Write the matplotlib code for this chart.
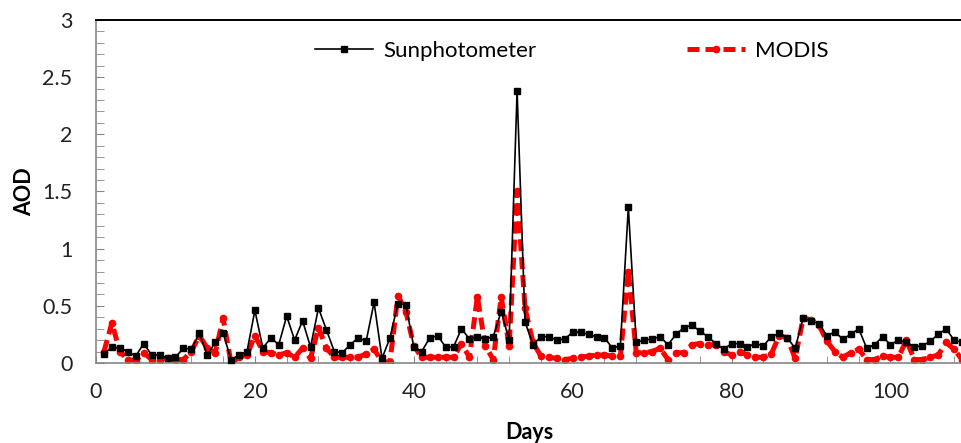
"""
AOD time series: sunphotometer vs MODIS, daily values.
"""

import matplotlib
matplotlib.use("Agg")
import matplotlib.pyplot as plt
import numpy as np
from matplotlib.ticker import FuncFormatter, MultipleLocator

# day index of each observation
DAYS = np.arange(1, 110)

SUNPHOTOMETER = [
    0.08, 0.14, 0.13, 0.10, 0.06, 0.17, 0.07, 0.07, 0.04, 0.05,
    0.13, 0.12, 0.26, 0.07, 0.18, 0.26, 0.03, 0.07, 0.10, 0.46,
    0.13, 0.22, 0.16, 0.41, 0.20, 0.37, 0.14, 0.48, 0.29, 0.10,
    0.09, 0.16, 0.22, 0.19, 0.53, 0.04, 0.22, 0.52, 0.51, 0.14,
    0.10, 0.22, 0.24, 0.14, 0.14, 0.30, 0.21, 0.23, 0.21, 0.23,
    0.45, 0.20, 2.38, 0.36, 0.16, 0.23, 0.23, 0.20, 0.21, 0.27,
    0.27, 0.25, 0.23, 0.22, 0.13, 0.15, 1.36, 0.18, 0.20, 0.21,
    0.23, 0.16, 0.25, 0.31, 0.33, 0.28, 0.23, 0.17, 0.12, 0.17,
    0.17, 0.14, 0.17, 0.15, 0.23, 0.26, 0.22, 0.13, 0.39, 0.37,
    0.34, 0.24, 0.27, 0.21, 0.25, 0.30, 0.13, 0.16, 0.23, 0.16,
    0.20, 0.18, 0.14, 0.15, 0.19, 0.25, 0.30, 0.20, 0.18,
]

MODIS = [
    0.10, 0.35, 0.10, 0.03, 0.02, 0.09, 0.03, 0.03, 0.04, 0.03,
    0.03, 0.10, 0.24, 0.13, 0.09, 0.39, 0.00, 0.05, 0.07, 0.24,
    0.10, 0.09, 0.07, 0.09, 0.05, 0.13, 0.04, 0.31, 0.13, 0.05,
    0.05, 0.05, 0.05, 0.08, 0.12, 0.01, 0.01, 0.59, 0.45, 0.15,
    0.05, 0.05, 0.05, 0.05, 0.05, 0.17, 0.05, 0.58, 0.15, 0.03,
    0.58, 0.15, 1.50, 0.48, 0.18, 0.06, 0.05, 0.04, 0.03, 0.04,
    0.05, 0.06, 0.07, 0.07, 0.06, 0.06, 0.80, 0.09, 0.09, 0.10,
    0.13, 0.03, 0.09, 0.09, 0.16, 0.17, 0.16, 0.16, 0.10, 0.07,
    0.10, 0.07, 0.05, 0.05, 0.08, 0.24, 0.22, 0.04, 0.39, 0.38,
    0.33, 0.19, 0.10, 0.05, 0.09, 0.12, 0.03, 0.03, 0.06, 0.05,
    0.05, 0.20, 0.03, 0.03, 0.05, 0.07, 0.18, 0.12, 0.03,
]

plt.rcParams["font.family"] = ["Lato", "DejaVu Sans"]

fig = plt.figure(figsize=(9.62, 4.43), dpi=100)
ax = fig.add_axes([0.0998, 0.1806, 0.9002, 0.7743])

ax.plot(DAYS, SUNPHOTOMETER, color="black", lw=1.2, marker="s", ms=4.5,
        label="Sunphotometer", clip_on=False, zorder=3)
ax.plot(DAYS, MODIS, color="red", lw=3.6, ls=(0, (2.4, 1.2)), marker="o", ms=4.5,
        label="MODIS", zorder=2)

ax.set_xlim(0, 109)
ax.set_ylim(0, 3)

ax.xaxis.set_major_locator(MultipleLocator(20))
ax.xaxis.set_minor_locator(MultipleLocator(4))
ax.yaxis.set_major_locator(MultipleLocator(0.5))
ax.yaxis.set_minor_locator(MultipleLocator(0.1))
ax.yaxis.set_major_formatter(FuncFormatter(lambda v, p: f"{v:g}"))

grey = "#868686"
ax.tick_params(axis="both", which="both", direction="in", color=grey,
               labelsize=15.5, labelcolor="#222222")
ax.tick_params(axis="x", which="both", length=5, pad=14)
ax.tick_params(axis="y", which="both", length=6, pad=17)

for side in ("left", "bottom"):
    ax.spines[side].set_color(grey)
    ax.spines[side].set_linewidth(1.2)
ax.spines["top"].set_color("black")
ax.spines["top"].set_linewidth(1.4)
ax.spines["right"].set_visible(False)

ax.set_xlabel("Days", fontsize=15.5, fontweight="bold", labelpad=14)
ax.set_ylabel("AOD", fontsize=15.5, fontweight="bold", labelpad=5)

ax.legend(loc="upper left", bbox_to_anchor=(0.235, 0.985), ncol=2, frameon=False,
          fontsize=16, handlelength=2.6, columnspacing=6.8, handletextpad=0.45,
          borderpad=0.2)

fig.savefig("out.png", dpi=100)
